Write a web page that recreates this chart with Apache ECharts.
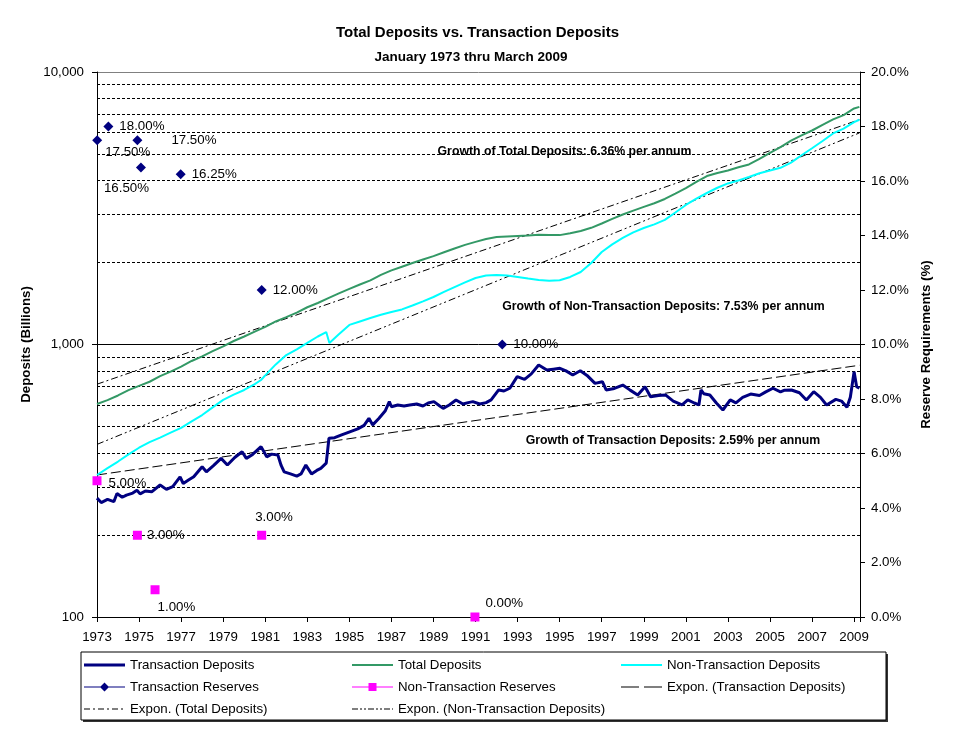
<!DOCTYPE html>
<html><head><meta charset="utf-8">
<script src="https://cdn.jsdelivr.net/npm/echarts@6/dist/echarts.min.js"></script>
<style>html,body{margin:0;padding:0;background:#fff}#c{width:955px;height:729px}</style>
</head><body><div id="c"></div>
<script>
const FONT = '"Liberation Sans", Arial, sans-serif';

// ---------- data ----------
const xTickLabels = ['1973','1975','1977','1979','1981','1983','1985','1987','1989','1991','1993','1995','1997','1999','2001','2003','2005','2007','2009'];
const minorGridValues = [200,300,400,500,600,700,800,900,2000,3000,4000,5000,6000,7000,8000,9000];

const transYears = [1973.00,1973.20,1973.50,1973.80,1973.95,1974.20,1974.40,1974.70,1974.90,1975.05,1975.30,1975.60,1976.00,1976.30,1976.60,1976.95,1977.10,1977.35,1977.60,1978.00,1978.20,1978.55,1978.90,1979.20,1979.55,1979.90,1980.10,1980.40,1980.80,1981.07,1981.30,1981.60,1981.75,1981.90,1982.20,1982.50,1982.70,1982.93,1983.20,1983.45,1983.64,1983.90,1984.03,1984.30,1984.60,1985.05,1985.40,1985.70,1985.93,1986.11,1986.40,1986.70,1986.90,1987.00,1987.30,1987.60,1987.87,1988.20,1988.50,1988.75,1989.02,1989.30,1989.46,1989.75,1990.07,1990.40,1990.65,1990.87,1991.20,1991.50,1991.74,1992.10,1992.35,1992.63,1992.98,1993.33,1993.65,1994.00,1994.39,1994.70,1995.01,1995.30,1995.62,1995.98,1996.30,1996.68,1997.03,1997.21,1997.60,1998.00,1998.35,1998.71,1999.06,1999.32,1999.70,2000.03,2000.40,2000.82,2001.09,2001.40,2001.62,2001.72,2001.85,2002.14,2002.45,2002.76,2003.11,2003.38,2003.70,2004.08,2004.50,2004.80,2005.14,2005.50,2005.70,2006.02,2006.40,2006.73,2007.08,2007.40,2007.69,2008.13,2008.40,2008.66,2008.82,2009.00,2009.12,2009.25];
const transValues = [273,263,270,265,284,275,280,285,292,283,290,288,305,294,301,327,309,318,327,356,341,360,382,361,385,404,382,395,422,387,396,393,361,341,335,329,335,361,335,345,351,367,453,455,465,479,490,505,536,507,535,570,617,591,600,595,600,605,595,610,617,595,583,600,626,605,612,617,605,612,626,681,675,691,762,745,780,841,806,812,818,800,773,801,770,720,730,681,690,710,680,653,700,643,650,653,620,600,626,610,600,681,660,653,610,575,626,611,640,658,650,670,691,670,680,681,665,626,671,640,600,629,620,588,640,794,700,691];

const totalYears = [1973.0,1973.5,1974.0,1974.5,1975.0,1975.5,1976.0,1976.5,1977.0,1977.5,1978.0,1978.5,1979.0,1979.5,1980.0,1980.5,1981.0,1981.5,1982.0,1982.5,1983.0,1983.5,1984.0,1984.5,1985.0,1985.5,1986.0,1986.5,1987.0,1987.5,1988.0,1988.5,1989.0,1989.5,1990.0,1990.5,1991.0,1991.5,1992.0,1992.5,1993.0,1993.5,1994.0,1994.5,1995.0,1995.5,1996.0,1996.5,1997.0,1997.5,1998.0,1998.5,1999.0,1999.5,2000.0,2000.5,2001.0,2001.5,2002.0,2002.5,2003.0,2003.5,2004.0,2004.5,2005.0,2005.5,2006.0,2006.5,2007.0,2007.5,2008.0,2008.5,2009.0,2009.25];
const totalValues = [605,625,650,680,705,730,765,795,830,870,905,945,985,1030,1070,1115,1160,1215,1260,1310,1370,1420,1480,1540,1600,1660,1720,1800,1870,1930,1990,2050,2110,2180,2250,2320,2380,2440,2480,2490,2500,2510,2530,2520,2520,2560,2610,2680,2780,2890,3000,3100,3200,3300,3420,3580,3750,3950,4150,4260,4350,4470,4580,4800,5050,5300,5600,5850,6100,6400,6700,6950,7350,7450];

const nonTransYears = [1973.0,1973.5,1974.0,1974.5,1975.0,1975.5,1976.0,1976.5,1977.0,1977.5,1978.0,1978.5,1979.0,1979.5,1980.0,1980.5,1980.8,1981.0,1981.5,1982.0,1982.5,1983.0,1983.5,1983.9,1984.05,1984.5,1985.0,1985.5,1986.0,1986.5,1987.0,1987.5,1988.0,1988.5,1989.0,1989.5,1990.0,1990.5,1991.0,1991.5,1992.0,1992.5,1993.0,1993.5,1994.0,1994.5,1995.0,1995.5,1996.0,1996.5,1997.0,1997.5,1998.0,1998.5,1999.0,1999.5,2000.0,2000.5,2001.0,2001.5,2002.0,2002.5,2003.0,2003.5,2004.0,2004.5,2005.0,2005.5,2006.0,2006.5,2007.0,2007.5,2008.0,2008.5,2009.0,2009.25];
const nonTransValues = [332,352,372,395,418,438,455,475,494,522,551,588,626,655,681,715,741,770,845,915,960,1013,1070,1111,1013,1090,1180,1215,1251,1285,1316,1345,1390,1440,1494,1560,1625,1690,1754,1790,1800,1790,1770,1745,1725,1715,1720,1770,1845,1990,2185,2330,2460,2580,2677,2760,2866,3050,3252,3430,3597,3760,3900,4000,4120,4250,4350,4450,4650,4950,5250,5580,5950,6200,6550,6680];

const expTransYears = [1973.0, 2009.25];
const expTransValues = [332, 839];
const expTotalYears = [1973.0, 2009.25];
const expTotalValues = [715, 6684];
const expNonTransYears = [1973.0, 2009.25];
const expNonTransValues = [430, 5975];

const transResYears = [1973.01, 1973.54, 1974.92, 1975.09, 1976.98, 1980.83, 1992.27];
const transResValues = [17.5, 18.0, 17.5, 16.5, 16.25, 12.0, 10.0];
const nonTransResYears = [1973.0, 1974.92, 1975.76, 1980.83, 1990.97];
const nonTransResValues = [5, 3, 1, 3, 0];

// ---------- layout (label offsets, not data) ----------
const transResLabelOffsets = [[3,12],[6,0],[29,0],[-42,21],[6,0],[6,0],[6,0]];
const nonTransResLabelOffsets = [[7,3],[5,0],[-2,18],[-11,-18],[6,-14]];

const BASE = 1973;
const pairs = (ys, vs) => ys.map((y, i) => [y - BASE, vs[i]]);

function barsPath(rects, extra) {
  let p = 'path://M0 0L0.01 0L0 0.01Z M41 10L40.99 10L41 9.99Z';
  rects.forEach(r => { p += ` M${r[0]} ${r[2]}L${r[1]} ${r[2]}L${r[1]} ${r[3]}L${r[0]} ${r[3]}Z`; });
  if (extra) p += ' ' + extra;
  return p;
}
const ICON_TRANS = barsPath([[0,41,3.5,6.5]]);
const ICON_TOTAL = barsPath([[0,41,4,6]]);
const ICON_NONTRANS = barsPath([[0,41,4,6]]);
const ICON_TRES = barsPath([[0,41,4.5,5.5]], 'M20.5 0.5L25 5L20.5 9.5L16 5Z');
const ICON_NRES = barsPath([[0,41,4.5,5.5]], 'M16.5 1L24.5 1L24.5 9L16.5 9Z');
const ICON_EXPT = barsPath([[0,18,4.5,5.5],[23,41,4.5,5.5]]);
const ICON_EXPTOT = barsPath([[0,6,4.5,5.5],[9,11,4.5,5.5],[14,20,4.5,5.5],[23,25,4.5,5.5],[28,34,4.5,5.5],[37,39,4.5,5.5]]);
const ICON_EXPNT = barsPath([[0,6,4.5,5.5],[8,10,4.5,5.5],[12,14,4.5,5.5],[16,22,4.5,5.5],[24,26,4.5,5.5],[28,30,4.5,5.5],[32,38,4.5,5.5],[40,41,4.5,5.5]]);

const labelText = {color:'#000', opacity:1, fontSize:13.3, fontFamily:FONT};
const legendCommon = {
  orient:'vertical', top:658, itemGap:8, itemWidth:41, itemHeight:10,
  selectedMode:false, padding:0,
  itemStyle:{borderWidth:0, opacity:1},
  textStyle:{color:'#000', fontSize:13.3, fontFamily:FONT, lineHeight:14}
};

const chart = echarts.init(document.getElementById('c'), null, {renderer:'canvas'});
chart.setOption({
  animation:false,
  backgroundColor:'#fff',
  grid:{left:97, right:95, top:72, bottom:112, containLabel:false},
  legend:[
    Object.assign({}, legendCommon, {left:84, data:[
      {name:'Transaction Deposits', icon:ICON_TRANS},
      {name:'Transaction Reserves', icon:ICON_TRES},
      {name:'Expon. (Total Deposits)', icon:ICON_EXPTOT}]}),
    Object.assign({}, legendCommon, {left:352, data:[
      {name:'Total Deposits', icon:ICON_TOTAL},
      {name:'Non-Transaction Reserves', icon:ICON_NRES},
      {name:'Expon. (Non-Transaction Deposits)', icon:ICON_EXPNT}]}),
    Object.assign({}, legendCommon, {left:621, data:[
      {name:'Non-Transaction Deposits', icon:ICON_NONTRANS},
      {name:'Expon. (Transaction Deposits)', icon:ICON_EXPT}]})
  ],
  graphic:[
    {type:'rect', z:-2, shape:{x:83, y:654, width:805, height:68}, style:{fill:'#333'}},
    {type:'rect', z:-1, shape:{x:81, y:652, width:805, height:68}, style:{fill:'#fff', stroke:'#000', lineWidth:1}},
    {type:'text', x:477.5, y:33, style:{text:'Total Deposits vs. Transaction Deposits', fill:'#000', font:'bold 15px ' + FONT, textAlign:'center', textVerticalAlign:'middle'}},
    {type:'text', x:471, y:57.5, style:{text:'January 1973 thru March 2009', fill:'#000', font:'bold 13.5px ' + FONT, textAlign:'center', textVerticalAlign:'middle'}},
    {type:'text', x:564.5, y:152, style:{text:'Growth of Total Deposits: 6.36% per annum', fill:'#000', font:'bold 12.3px ' + FONT, textAlign:'center', textVerticalAlign:'middle'}},
    {type:'text', x:663.5, y:307, style:{text:'Growth of Non-Transaction Deposits: 7.53% per annum', fill:'#000', font:'bold 12.3px ' + FONT, textAlign:'center', textVerticalAlign:'middle'}},
    {type:'text', x:673, y:441, style:{text:'Growth of Transaction Deposits: 2.59% per annum', fill:'#000', font:'bold 12.3px ' + FONT, textAlign:'center', textVerticalAlign:'middle'}}
  ],
  xAxis:{
    type:'value', min:0, max:36.28, interval:2,
    axisLine:{lineStyle:{color:'#000', width:1}},
    axisTick:{length:5, lineStyle:{color:'#000'}},
    axisLabel:{color:'#000', fontSize:13.3, fontFamily:FONT, margin:14,
      formatter: v => { const r = Math.round(v); return (Math.abs(v - r) < 1e-6 && r % 2 === 0) ? (xTickLabels[r/2] || '') : ''; }},
    splitLine:{show:false}
  },
  yAxis:[
    {type:'log', logBase:10, min:100, max:10000, position:'left',
     axisLine:{show:true, lineStyle:{color:'#000'}},
     axisTick:{show:true, length:5, lineStyle:{color:'#000'}},
     axisLabel:{color:'#000', fontSize:13.3, fontFamily:FONT, margin:13,
       formatter: v => Math.round(v).toLocaleString('en-US')},
     splitLine:{show:true, lineStyle:{color:['#000','#000','#808080'], width:1}},
     name:'Deposits (Billions)', nameLocation:'middle', nameRotate:90, nameGap:62,
     nameTextStyle:{color:'#000', fontSize:13.3, fontWeight:'bold', fontFamily:FONT}},
    {type:'value', min:0, max:20, interval:2, position:'right',
     axisLine:{show:true, lineStyle:{color:'#000'}},
     axisTick:{show:true, length:5, lineStyle:{color:'#000'}},
     axisLabel:{color:'#000', fontSize:13.3, fontFamily:FONT, margin:11,
       formatter: v => v.toFixed(1) + '%'},
     splitLine:{show:false},
     name:'Reserve Requirements (%)', nameLocation:'middle', nameRotate:90, nameGap:58,
     nameTextStyle:{color:'#000', fontSize:13.3, fontWeight:'bold', fontFamily:FONT}}
  ],
  series:[
    {type:'line', name:'__grid', data:[], yAxisIndex:0, silent:true,
     markLine:{silent:true, z:1, symbol:['none','none'], label:{show:false}, animation:false,
       lineStyle:{color:'#000', type:[3,2], width:1},
       emphasis:{disabled:true},
       data: minorGridValues.map(v => ({yAxis:v}))}},
    {type:'line', name:'Expon. (Transaction Deposits)', yAxisIndex:0, data:pairs(expTransYears, expTransValues),
     symbol:'none', color:'#000', lineStyle:{color:'#000', width:1, type:[10,4]}, z:3},
    {type:'line', name:'Expon. (Total Deposits)', yAxisIndex:0, data:pairs(expTotalYears, expTotalValues),
     symbol:'none', color:'#000', lineStyle:{color:'#000', width:1, type:[7,3,2,3]}, z:3},
    {type:'line', name:'Expon. (Non-Transaction Deposits)', yAxisIndex:0, data:pairs(expNonTransYears, expNonTransValues),
     symbol:'none', color:'#000', lineStyle:{color:'#000', width:1, type:[7,3,2,3,2,3]}, z:3},
    {type:'line', name:'Total Deposits', yAxisIndex:0, data:pairs(totalYears, totalValues),
     symbol:'none', color:'#339966', lineStyle:{color:'#339966', width:2}, z:4},
    {type:'line', name:'Non-Transaction Deposits', yAxisIndex:0, data:pairs(nonTransYears, nonTransValues),
     symbol:'none', color:'#00FFFF', lineStyle:{color:'#00FFFF', width:2}, z:4},
    {type:'line', name:'Transaction Deposits', yAxisIndex:0, data:pairs(transYears, transValues),
     symbol:'none', color:'#000080', lineStyle:{color:'#000080', width:3}, z:5},
    {type:'scatter', name:'Transaction Reserves', yAxisIndex:1, symbol:'diamond', symbolSize:10, clip:false,
     color:'#000080', itemStyle:{color:'#000080', opacity:1}, z:6,
     data: transResYears.map((y, i) => ({value:[y - BASE, transResValues[i]],
        label:{show:true, position:'right', distance:0, offset:transResLabelOffsets[i],
          formatter: transResValues[i].toFixed(2) + '%', ...labelText}}))},
    {type:'scatter', name:'Non-Transaction Reserves', yAxisIndex:1, symbol:'rect', symbolSize:9, clip:false,
     color:'#FF00FF', itemStyle:{color:'#FF00FF', opacity:1}, z:6,
     data: nonTransResYears.map((y, i) => ({value:[y - BASE, nonTransResValues[i]],
        label:{show:true, position:'right', distance:0, offset:nonTransResLabelOffsets[i],
          formatter: nonTransResValues[i].toFixed(2) + '%', ...labelText}}))}
  ]
});
</script></body></html>
